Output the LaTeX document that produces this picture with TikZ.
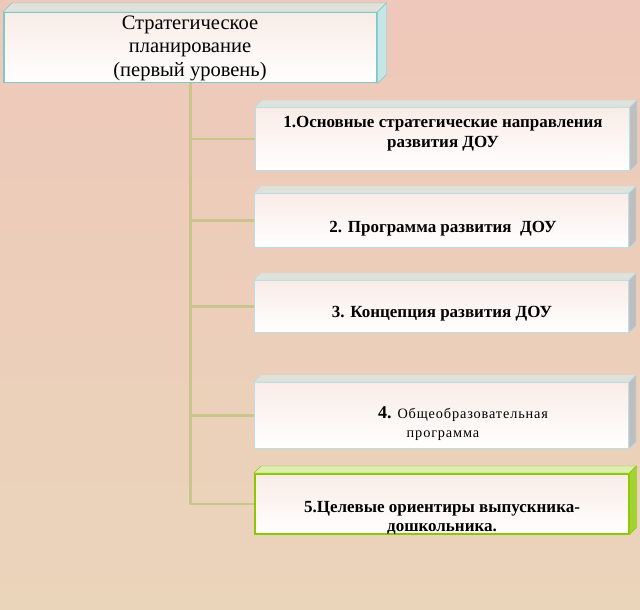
\documentclass[tikz,border=0pt]{standalone}
\usepackage{fontspec}
\setmainfont{Liberation Serif}
\usetikzlibrary{positioning}

\definecolor{paper}{RGB}{238,200,186}
\definecolor{paperlow}{RGB}{234,212,186}
\definecolor{stem}{RGB}{200,198,140}
\definecolor{edgeblue}{RGB}{185,222,232}
\definecolor{edgeteal}{RGB}{125,200,200}
\definecolor{sidegray}{RGB}{190,190,190}
\definecolor{topface}{RGB}{222,226,218}
\definecolor{lime}{RGB}{140,200,0}

% top and right faces of a box
\newcommand{\sides}[5]{%
  \filldraw[draw=#5,fill=#3] (#1.north west) -- ++(#2,-#2) -- ([shift={(#2,-#2)}]#1.north east) -- (#1.north east) -- cycle;
  \filldraw[draw=#5,fill=#4] (#1.north east) -- ([shift={(#2,-#2)}]#1.north east) -- ([shift={(#2,-#2)}]#1.south east) -- (#1.south east) -- cycle;
}

\begin{document}
\begin{tikzpicture}[x=1pt,y=-1pt,
	face/.style={draw=edgeblue, line width=1pt, top color=paper!35!white, bottom color=white, anchor=north west, inner sep=0pt, minimum width=374pt},
	link/.style={draw=stem, line width=2.5pt},
	boxtext/.style={align=center, font=\fontsize{17}{20}\selectfont\bfseries, inner sep=0pt}]

	\useasboundingbox (0,0) rectangle (640,610);
	\shade[top color=paper, bottom color=paperlow] (0,0) rectangle (640,610);

	\node[face, draw=edgeteal, line width=1.5pt, minimum width=373pt, minimum height=70pt] (plan) at (3,12) {};
	\node[face, minimum height=63pt] (g1) at (255,107) {};
	\node[face, minimum height=54pt] (g2) at (254,193) {};
	\node[face, minimum height=52pt] (g3) at (254,280) {};
	\node[face, minimum height=66pt] (g4) at (254,382) {};
	\node[face, draw=lime, line width=1.5pt, minimum height=60pt] (g5) at (254,473) {};

	\sides{plan}{9}{topface}{edgeteal!45!white}{edgeteal}
	\sides{g1}{7}{topface}{sidegray}{edgeblue}
	\sides{g2}{7}{topface}{sidegray}{edgeblue}
	\sides{g3}{7}{topface}{sidegray}{edgeblue}
	\sides{g4}{7}{topface}{sidegray}{edgeblue}
	\sides{g5}{7}{lime!30!white}{lime!80!white}{lime}

	\draw[link] (plan.south) |- (g5.west);
	\draw[link] (plan.south |- g1.west) -- (g1.west);
	\draw[link] (plan.south |- g2.west) -- (g2.west);
	\draw[link] (plan.south |- g3.west) -- (g3.west);
	\draw[link] (plan.south |- g4.west) -- (g4.west);

	\node[align=center, font=\fontsize{20.5}{23.5}\selectfont, inner sep=0pt] (tplan) at (190,48) {Стратегическое\\планирование\\(первый уровень)};
	\node[boxtext] (t1) at (443,134) {1.Основные стратегические направления\\развития ДОУ};
	\node[boxtext] (t2) at (443,229) {2. Программа развития~ ДОУ};
	\node[boxtext] (t3) at (442,314) {3. Концепция развития ДОУ};
	\node[inner sep=0pt, anchor=base] (t4a) at (463,418) {\fontsize{18}{20}\selectfont\bfseries 4. \mdseries\fontsize{14.3}{16}\selectfont\addfontfeature{LetterSpace=6}Общеобразовательная};
	\node[inner sep=0pt, anchor=base, font=\fontsize{14.3}{16}\selectfont\addfontfeature{LetterSpace=6}] (t4b) at (443,437) {программа};
	\node[boxtext, font=\fontsize{17}{18.5}\selectfont\bfseries] (t5) at (442,518) {5.Целевые ориентиры выпускника-\\дошкольника.};
\end{tikzpicture}
\end{document}
